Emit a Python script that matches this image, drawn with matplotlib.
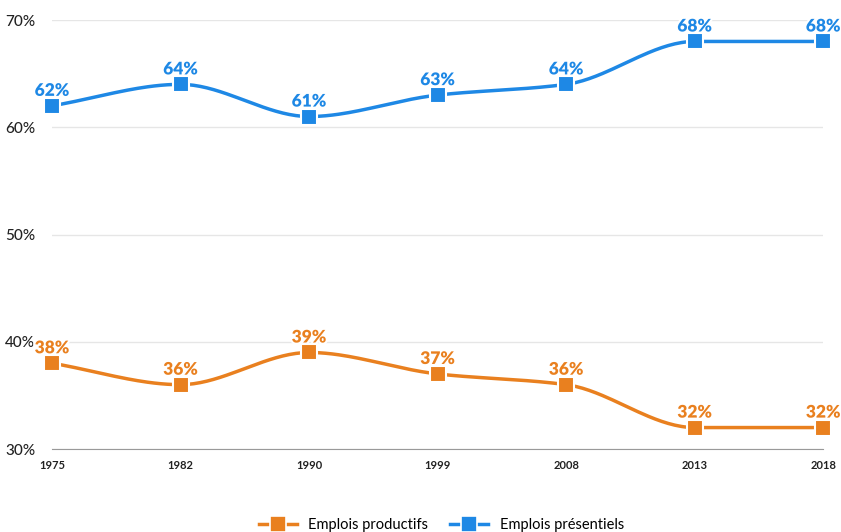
import numpy as np
import matplotlib.pyplot as plt
import matplotlib.patheffects as pe

annees = ["1975", "1982", "1990", "1999", "2008", "2013", "2018"]
productifs = [38, 36, 39, 37, 36, 32, 32]
presentiels = [62, 64, 61, 63, 64, 68, 68]

orange = "#E9801F"
bleu = "#1E88E5"


# interpolation monotone (Fritsch-Carlson) pour lisser les courbes
def monotone(x, y, n=40):
    x = np.asarray(x, float)
    y = np.asarray(y, float)
    h = np.diff(x)
    d = np.diff(y) / h
    m = np.zeros_like(y)
    m[0], m[-1] = d[0], d[-1]
    for i in range(1, len(y) - 1):
        if d[i - 1] * d[i] <= 0:
            m[i] = 0
        else:
            m[i] = 2 / (1 / d[i - 1] + 1 / d[i])
    xs, ys = [], []
    for i in range(len(x) - 1):
        t = np.linspace(0, 1, n)
        h00 = 2 * t**3 - 3 * t**2 + 1
        h10 = t**3 - 2 * t**2 + t
        h01 = -2 * t**3 + 3 * t**2
        h11 = t**3 - t**2
        xs.append(x[i] + t * h[i])
        ys.append(h00 * y[i] + h10 * h[i] * m[i] + h01 * y[i + 1] + h11 * h[i] * m[i + 1])
    return np.concatenate(xs), np.concatenate(ys)


fig = plt.figure(figsize=(8.41, 5.32), dpi=100)
ax = fig.add_axes([0.0618, 0.156, 0.917, 0.8064])

x = np.arange(len(annees))
contour = [pe.withStroke(linewidth=3, foreground="white")]

for serie, couleur, nom in [(productifs, orange, "Emplois productifs"),
                            (presentiels, bleu, "Emplois présentiels")]:
    xs, ys = monotone(x, serie)
    ax.plot(xs, ys, color=couleur, lw=2.5, zorder=3, solid_capstyle="round")
    ax.plot(x, serie, ls="none", marker="s", ms=11, mfc=couleur, mec="white",
            mew=1.5, zorder=4, clip_on=False)
    ax.plot([], [], color=couleur, lw=2.5, marker="s", ms=11, mfc=couleur,
            mec="white", mew=1.2, label=nom)
    for xi, v in zip(x, serie):
        ax.annotate(f"{v}%", (xi, v), xytext=(0, 5), textcoords="offset points",
                    ha="center", va="bottom", color=couleur, fontsize=12.5,
                    fontweight="heavy", family="Lato", path_effects=contour,
                    zorder=5, annotation_clip=False)

ax.set_xlim(0, len(annees) - 1)
ax.set_ylim(30, 70)
ax.set_yticks([30, 40, 50, 60, 70])
ax.set_yticklabels(["30%", "40%", "50%", "60%", "70%"], family="Lato", fontsize=11,
                   fontweight="medium")
ax.set_xticks(x)
ax.set_xticklabels(annees, family="Lato", fontsize=8, fontweight="bold")
ax.grid(axis="y", color="#e6e6e6", lw=1)
ax.set_axisbelow(True)
for s in ["top", "right", "left"]:
    ax.spines[s].set_visible(False)
ax.spines["bottom"].set_color("#999999")
ax.tick_params(axis="both", length=0, colors="#222222")
ax.tick_params(axis="y", pad=12)
ax.tick_params(axis="x", pad=8)

fig.legend(loc="lower center", bbox_to_anchor=(0.525, -0.025), ncol=2, frameon=False,
           prop={"family": "Lato", "size": 10.5}, handlelength=2.6, columnspacing=1.5)

fig.savefig("out.png", dpi=100)
